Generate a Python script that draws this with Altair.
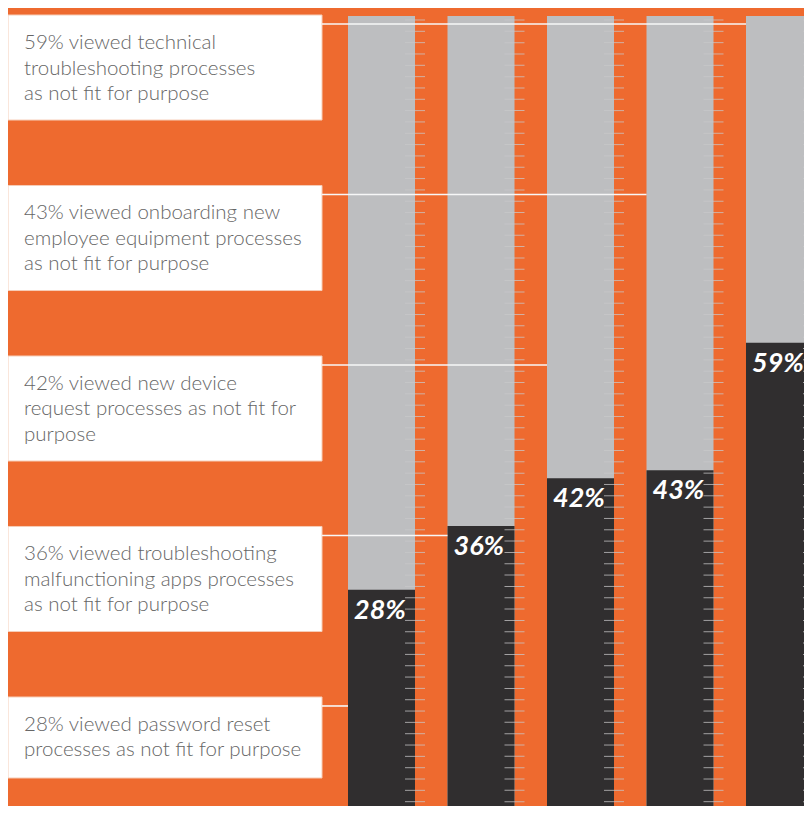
import altair as alt
import numpy as np
import pandas as pd

# ---- data ----
categories = ["password", "apps", "device", "onboarding", "technical"]   # bars, left to right
values = [28, 36, 42, 43, 59]
value_labels = ["28%", "36%", "42%", "43%", "59%"]

label_ids = ["technical", "onboarding", "device", "apps", "password"]      # boxes, top to bottom
label_lines = [
    ["59% viewed technical", "troubleshooting processes", "as not fit for purpose"],
    ["43% viewed onboarding new", "employee equipment processes", "as not fit for purpose"],
    ["42% viewed new device", "request processes as not fit for", "purpose"],
    ["36% viewed troubleshooting", "malfunctioning  apps processes", "as not fit for purpose"],
    ["28% viewed password reset", "processes as not fit for purpose"],
]

tick_values = list(np.linspace(0, 99.5, 71))

# ---- styling ----
ORANGE = "#EE6A2F"
GRAY = "#BDBEC0"
DARK = "#302E2F"
TEXT = "#666666"

bars = pd.DataFrame({"cat": categories, "value": values, "label": value_labels,
                     "total": [100] * len(categories)})
labels = pd.DataFrame({"id": label_ids, "cat": label_ids,
                       "lines": label_lines,
                       "n": [len(l) for l in label_lines]})
ticks = pd.DataFrame([(c, t) for c in categories for t in tick_values], columns=["cat", "t"])

xscale = alt.Scale(type="band", domain=categories, range=[340, 805], paddingInner=0.3266, paddingOuter=0)
yscale = alt.Scale(domain=[0, 100], range=[805, 8])
lscale = alt.Scale(type="band", domain=label_ids, range=[7, 794], paddingInner=0.384, paddingOuter=0)

X = lambda **kw: alt.X("cat:N", scale=xscale, axis=None, **kw)
LY = lambda **kw: alt.Y("id:N", scale=lscale, axis=None, **kw)

box3 = alt.Chart(labels).transform_filter("datum.n == 3").mark_rect(
    color="white", stroke="#F6CDB8", strokeWidth=1
).encode(x=alt.value(0), x2=alt.value(314), y=LY())

box2 = alt.Chart(labels).transform_filter("datum.n == 2").mark_bar(
    color="white", stroke="#F6CDB8", strokeWidth=1, orient="horizontal", height=81, yOffset=-12
).encode(x=alt.value(0), x2=alt.value(314), y=LY())

gray = alt.Chart(bars).mark_bar(color=GRAY).encode(
    x=X(), y=alt.Y("total:Q", scale=yscale, axis=None)
)
dark = alt.Chart(bars).mark_bar(color=DARK).encode(
    x=X(), y=alt.Y("value:Q", scale=yscale, axis=None)
)
tickmarks = alt.Chart(ticks).mark_tick(
    orient="horizontal", size=20, thickness=1, color="#C8C8CA", opacity=0.75, xOffset=33.5
).encode(x=X(), y=alt.Y("t:Q", scale=yscale, axis=None))

connectors = alt.Chart(labels).mark_rule(
    color="#F7F7F7", strokeWidth=1.6, yOffset=9
).encode(x=X(bandPosition=0), x2=alt.value(314), y=LY(bandPosition=0))

value_text = alt.Chart(bars).mark_text(
    align="left", baseline="alphabetic", dx=6, dy=29, font="Lato", fontSize=27,
    fontStyle="italic", fontWeight="bold", color="white"
).encode(x=X(bandPosition=0), y=alt.Y("value:Q", scale=yscale, axis=None), text="label:N")

box_text = alt.Chart(labels).mark_text(
    align="left", baseline="alphabetic", dy=34, font="Lato", fontSize=20.5,
    fontWeight=300, lineHeight=25.5, color=TEXT
).encode(x=alt.value(16), y=LY(bandPosition=0), text="lines")

chart = alt.layer(
    box3, box2, gray, dark, tickmarks, connectors, value_text, box_text
).resolve_scale(y="independent").properties(
    width=796, height=798, background=ORANGE, padding=0, autosize="none"
).configure_view(stroke=None)

chart.save("out.html", embed_options={"renderer": "svg", "actions": False})
